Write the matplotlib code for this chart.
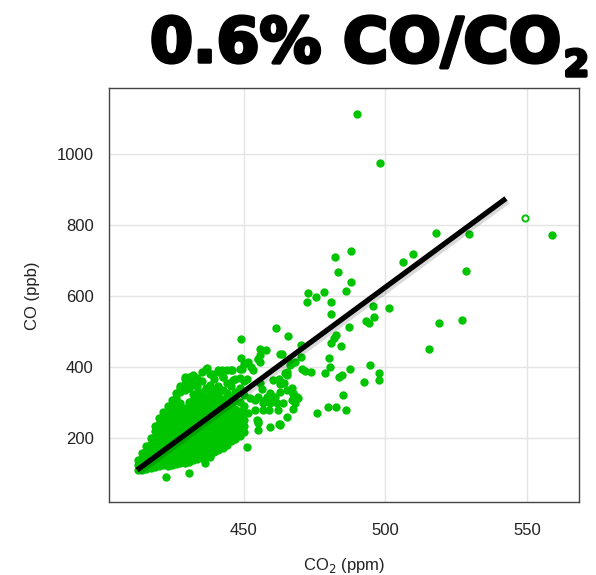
import numpy as np
import matplotlib
matplotlib.use('Agg')
from matplotlib import pyplot as plt
from matplotlib import patheffects as pe

# dense core of the cloud: one CO2 column -> CO values (ppb)
core_co2 = [412.5, 414, 415.5, 417, 418.5, 420, 421.5, 423, 424.5, 426, 427.5, 429, 430.5,
            432, 433.5, 435, 436.5, 438, 439.5, 441, 442.5, 444, 445.5, 447, 448.5, 450]
core_co = [
    [108, 122, 136],
    [110, 126, 143, 158],
    [113, 128, 145, 162, 178],
    [115, 131, 148, 165, 182, 200],
    [118, 134, 151, 168, 185, 202, 219, 232],
    [120, 137, 154, 171, 188, 205, 222, 239, 255],
    [122, 139, 156, 173, 190, 207, 224, 241, 258, 274],
    [120, 137, 154, 171, 188, 205, 222, 239, 256, 273, 290],
    [124, 141, 158, 175, 192, 209, 226, 243, 260, 277, 294, 306],
    [126, 143, 160, 177, 194, 211, 228, 245, 262, 279, 296, 313, 326],
    [129, 146, 163, 180, 197, 214, 231, 248, 265, 282, 299, 330, 346],
    [130, 147, 164, 181, 198, 215, 232, 249, 266, 283, 335, 352, 366],
    [132, 149, 166, 183, 200, 217, 234, 251, 268, 285, 302, 340, 358, 372],
    [136, 153, 170, 187, 204, 221, 238, 255, 272, 289, 306, 323, 350, 378],
    [139, 156, 173, 190, 207, 224, 241, 258, 275, 292, 309, 326, 345, 368],
    [142, 159, 176, 193, 210, 227, 244, 261, 278, 295, 312, 329, 360, 384],
    [145, 162, 179, 196, 213, 230, 247, 264, 281, 298, 315, 340, 395],
    [152, 169, 186, 203, 220, 237, 254, 271, 288, 305, 322, 350, 380],
    [160, 177, 194, 211, 228, 245, 262, 279, 296, 313, 335, 365],
    [166, 183, 200, 217, 234, 251, 268, 285, 302, 322, 345, 390],
    [172, 189, 206, 223, 240, 257, 274, 291, 310, 335, 372],
    [180, 197, 214, 231, 248, 265, 282, 300, 325, 355, 390],
    [190, 207, 224, 241, 258, 275, 292, 315, 345, 392],
    [196, 213, 230, 247, 264, 282, 305, 330, 365],
    [205, 222, 239, 256, 275, 300, 340, 395],
    [215, 232, 250, 270, 290, 320, 360, 408],
]

# scattered points outside the core
spread_co2 = [489.9, 498.1, 517.8, 529.7, 558.8, 488.0, 482.2, 509.9, 506.1, 483.3, 528.4,
              488.0, 486.2, 472.8, 478.4, 475.5, 472.4, 480.7, 495.5, 501.2, 480.7, 495.8,
              493.2, 494.1, 527.1, 518.9, 487.3, 461.4, 465.6, 482.6, 482.0, 515.5, 449.1,
              480.8, 484.4, 470.3, 457.8, 455.7, 463.3, 480.0, 470.1, 455.0, 455.7, 451.5,
              452.5, 448.9, 462.7, 454.8, 466.9, 468.0, 466.3, 470.4, 465.3, 480.5, 487.6,
              494.5, 497.9, 497.6, 492.5, 483.7, 484.6, 478.7, 473.6, 471.6, 464.5, 465.1,
              462.5, 464.3, 462.7, 485.0, 467.4, 468.9, 479.8, 482.4, 486.2, 475.8, 467.4,
              465.1, 462.4, 459.2, 455.1, 455.1, 456.8, 459.2, 461.6, 463.9, 468.0, 461.0,
              458.0, 455.1, 451.0, 422.3, 430.5, 436.2, 438.0, 453.9, 456.6, 458.9, 461.9,
              452.1, 451.5, 455.1, 462.6, 436.8, 442.1, 445.9, 449.2, 429.1, 432.4, 438.6,
              442.7, 446.2, 450.9, 455.7, 456.3, 459.2, 462.7, 466.9, 453.3, 440.9, 427.4,
              440.9, 445.0, 448.6, 460.4, 463.3, 465.1, 469.0, 467.5, 466.9, 454.5, 462.7,
              460.4, 457.4, 453.9, 443.3, 445.6, 414.0, 455.7]
spread_co = [1113, 974, 777, 773, 771, 727, 709, 719, 696, 666, 669,
             639, 614, 609, 611, 597, 582, 584, 572, 567, 550, 540,
             530, 524, 532, 523, 511, 508, 487, 490, 482, 449, 478,
             466, 459, 461, 446, 433, 436, 426, 427, 422, 414, 414,
             400, 424, 435, 421, 410, 414, 405, 393, 386, 400, 395,
             404, 383, 362, 358, 372, 377, 383, 384, 389, 382, 377,
             365, 354, 352, 320, 323, 316, 287, 287, 278, 270, 280,
             259, 238, 229, 242, 222, 297, 297, 297, 297, 297, 316,
             316, 316, 174, 90, 100, 128, 146, 278, 278, 278, 278,
             311, 269, 247, 239, 396, 391, 391, 393, 370, 354, 380,
             372, 363, 365, 354, 337, 325, 330, 339, 391, 386, 341,
             344, 354, 368, 363, 354, 335, 311, 325, 306, 250, 236,
             306, 306, 306, 179, 194, 134, 449]

# the one open (hollow) point
open_co2 = [549.4]
open_co = [820]

# fitted line, 0.6 % CO/CO2 (ppb per ppm)
fit_slope = 5.87
fit_co2 = [412.2, 542.6]
fit_co_start = 109

x_ticks = [450, 500, 550]
y_ticks = [200, 400, 600, 800, 1000]

green = '#00c400'
plt.rcParams['font.family'] = ['Liberation Sans', 'DejaVu Sans']

fig = plt.figure(figsize=(5.96, 5.75), dpi=100)
ax = fig.add_axes([0.1829, 0.1264, 0.7894, 0.7200])

cx = [c for c, ys in zip(core_co2, core_co) for _ in ys]
cy = [y for ys in core_co for y in ys]
ax.scatter(cx, cy, s=36, color=green, linewidths=0, zorder=3)
ax.scatter(spread_co2, spread_co, s=36, color=green, linewidths=0, zorder=3)
ax.scatter(open_co2, open_co, s=20, facecolors='white', edgecolors=green,
           linewidths=1.4, zorder=3)

fx = np.array(fit_co2)
fy = fit_co_start + fit_slope * (fx - fit_co2[0])
ax.plot(fx, fy, color='black', lw=3.8, solid_capstyle='butt', zorder=4,
        path_effects=[pe.SimpleLineShadow(offset=(1.5, -2), alpha=0.15, rho=0.3),
                      pe.Normal()])

ax.set_xlim(402.3, 568.6)
ax.set_ylim(18, 1185)
ax.set_xticks(x_ticks)
ax.set_yticks(y_ticks)
ax.grid(True, color='#e4e4e4', lw=1.0)
ax.set_axisbelow(True)
ax.tick_params(length=0, labelsize=12, colors='#222222')
ax.tick_params(axis='x', pad=15)
ax.tick_params(axis='y', pad=11)
for s in ax.spines.values():
    s.set_color('#444444')
    s.set_linewidth(1.0)

ax.set_xlabel('CO$_2$ (ppm)', fontsize=12, color='#222222', labelpad=13)
ax.set_ylabel('CO (ppb)', fontsize=12, color='#222222', labelpad=12)

stroke = [pe.withStroke(linewidth=2.5, foreground='black')]
t = fig.text(150 / 596, 1 - 62 / 575, '0.6% CO/CO', fontsize=44.5, fontweight='bold',
             family='DejaVu Sans', color='black', va='baseline', ha='left',
             path_effects=stroke)
fig.canvas.draw()
bb = t.get_window_extent()
fig.text(bb.x1 / fig.bbox.width + 0.004, 1 - 76 / 575, '2', fontsize=26,
         fontweight='bold', family='DejaVu Sans', color='black', va='baseline',
         ha='left', path_effects=stroke)

plt.savefig('out.png', dpi=100)
